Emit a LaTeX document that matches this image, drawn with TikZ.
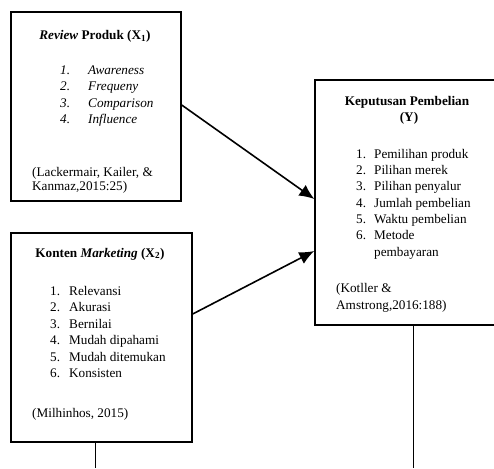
\documentclass[tikz,border=0pt]{standalone}
\usepackage{fontspec}
\setmainfont{Liberation Serif}
\usetikzlibrary{arrows.meta}
\tikzset{
  box/.style={draw=black, line width=1.4pt, rectangle, inner sep=0pt},
  txt/.style={inner sep=0pt, anchor=base west, font=\fontsize{13.2}{16}\selectfont},
  ctxt/.style={inner sep=0pt, anchor=base, font=\fontsize{13.2}{16}\selectfont\bfseries},
  conn/.style={line width=1.6pt, -{Latex[length=15pt,width=13pt]}},
  vline/.style={line width=0.8pt},
}
\begin{document}
\begin{tikzpicture}[x=1pt,y=-1pt]
\useasboundingbox (0,0) rectangle (494,468);
% boxes
\node[box, minimum width=170pt, minimum height=189pt] (bx1) at (96,106.5) {};
\node[box, minimum width=181pt, minimum height=209pt] (bx2) at (101.5,337.5) {};
\node[box, minimum width=182pt, minimum height=245pt] (by) at (406,202.5) {};
% box 1 texts
\node[ctxt] (t1) at (95,40) {\textit{Review} Produk (X\textsubscript{1})};
\node[txt] (a1n) at (60,75) {\textit{1.}};
\node[txt] (a2n) at (60,91) {\textit{2.}};
\node[txt] (a3n) at (60,107) {\textit{3.}};
\node[txt] (a4n) at (60,123) {\textit{4.}};
\node[txt] (a1) at (88,75) {\textit{Awareness}};
\node[txt] (a2) at (88,91) {\textit{Frequeny}};
\node[txt] (a3) at (88,107) {\textit{Comparison}};
\node[txt] (a4) at (88,123) {\textit{Influence}};
\node[txt] (c1a) at (32,176) {(Lackermair, Kailer, \&};
\node[txt] (c1b) at (32,190) {Kanmaz,2015:25)};
% box 2 texts
\node[ctxt] (t2) at (100,257) {Konten \textit{Marketing} (X\textsubscript{2})};
\node[txt] (b1n) at (50,295) {1.};
\node[txt] (b2n) at (50,311.5) {2.};
\node[txt] (b3n) at (50,328) {3.};
\node[txt] (b4n) at (50,344.5) {4.};
\node[txt] (b5n) at (50,361) {5.};
\node[txt] (b6n) at (50,377.5) {6.};
\node[txt] (b1) at (69,295) {Relevansi};
\node[txt] (b2) at (69,311.5) {Akurasi};
\node[txt] (b3) at (69,328) {Bernilai};
\node[txt] (b4) at (69,344.5) {Mudah dipahami};
\node[txt] (b5) at (69,361) {Mudah ditemukan};
\node[txt] (b6) at (69,377.5) {Konsisten};
\node[txt] (c2) at (32,417) {(Milhinhos, 2015)};
% box Y texts
\node[ctxt] (ty1) at (407,106) {Keputusan Pembelian};
\node[ctxt] (ty2) at (409,121) {(Y)};
\node[txt] (y1n) at (356,158) {1.};
\node[txt] (y2n) at (356,174) {2.};
\node[txt] (y3n) at (356,190.5) {3.};
\node[txt] (y4n) at (356,207) {4.};
\node[txt] (y5n) at (356,223) {5.};
\node[txt] (y6n) at (356,239.5) {6.};
\node[txt] (y1) at (374,158) {Pemilihan produk};
\node[txt] (y2) at (374,174) {Pilihan merek};
\node[txt] (y3) at (374,190.5) {Pilihan penyalur};
\node[txt] (y4) at (374,207) {Jumlah pembelian};
\node[txt] (y5) at (374,223) {Waktu pembelian};
\node[txt] (y6) at (374,239.5) {Metode};
\node[txt] (y6b) at (374,256) {pembayaran};
\node[txt] (cya) at (336,292) {(Kotller \&};
\node[txt] (cyb) at (336,309) {Amstrong,2016:188)};
% connectors
\draw[conn] ([yshift=1.5pt]bx1.east) -- ([yshift=3.5pt]by.west);
\draw[conn] ([yshift=23.5pt]bx2.east) -- ([yshift=-48.5pt]by.west);
\coordinate (e2) at (95,468);
\coordinate (ey) at (413,468);
\draw[vline] (bx2.south -| e2) -- (e2);
\draw[vline] (by.south -| ey) -- (ey);
\end{tikzpicture}
\end{document}
